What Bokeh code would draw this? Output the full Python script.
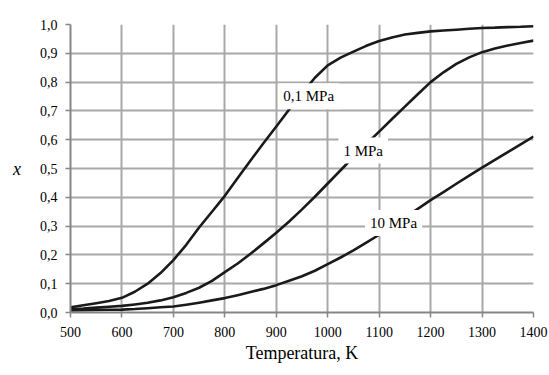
from bokeh.plotting import figure
from bokeh.models import FixedTicker, CustomJSTickFormatter, Range1d, Label
from bokeh.embed import file_html
from bokeh.resources import INLINE

# Data (temperature in K, conversion x)
temps = [500, 525, 550, 575, 600, 625, 650, 675, 700, 725, 750, 775, 800, 825, 850, 875,
         900, 925, 950, 975, 1000, 1025, 1050, 1075, 1100, 1125, 1150, 1175, 1200, 1225,
         1250, 1275, 1300, 1325, 1350, 1375, 1400]
x_01mpa = [0.018, 0.025, 0.032, 0.040, 0.051, 0.072, 0.100, 0.137, 0.182, 0.235, 0.295, 0.350,
           0.405, 0.467, 0.528, 0.588, 0.646, 0.705, 0.760, 0.815, 0.858, 0.885, 0.906, 0.926,
           0.943, 0.955, 0.965, 0.971, 0.976, 0.979, 0.982, 0.985, 0.988, 0.989, 0.991, 0.992, 0.994]
x_1mpa = [0.012, 0.014, 0.017, 0.020, 0.023, 0.028, 0.034, 0.042, 0.053, 0.068, 0.086, 0.110,
          0.140, 0.170, 0.204, 0.240, 0.277, 0.316, 0.358, 0.402, 0.448, 0.494, 0.540, 0.585,
          0.628, 0.672, 0.715, 0.758, 0.800, 0.834, 0.863, 0.886, 0.904, 0.917, 0.927, 0.936, 0.944]
x_10mpa = [0.007, 0.008, 0.009, 0.0095, 0.010, 0.012, 0.015, 0.018, 0.021, 0.027, 0.034, 0.042,
           0.050, 0.060, 0.071, 0.082, 0.095, 0.110, 0.126, 0.145, 0.168, 0.191, 0.216, 0.243,
           0.270, 0.300, 0.330, 0.360, 0.390, 0.418, 0.447, 0.475, 0.503, 0.530, 0.557, 0.584, 0.611]
series_labels = ["0,1 MPa", "1 MPa", "10 MPa"]
label_pos_t = [963, 1069, 1128]
label_pos_x = [0.751, 0.5625, 0.311]
x_ticks = [500, 600, 700, 800, 900, 1000, 1100, 1200, 1300, 1400]
y_ticks = [0.0, 0.1, 0.2, 0.3, 0.4, 0.5, 0.6, 0.7, 0.8, 0.9, 1.0]

FONT = "Liberation Serif"

p = figure(width=549, height=375, output_backend="svg", toolbar_location=None,
           x_range=Range1d(500, 1400), y_range=Range1d(0, 1.0),
           min_border_left=70, min_border_right=16, min_border_top=24, min_border_bottom=63)
p.outline_line_color = None
p.background_fill_color = "white"
p.border_fill_color = "white"

for ax in (p.xaxis[0], p.yaxis[0]):
    ax.axis_line_color = "#868686"
    ax.axis_line_width = 2
    ax.major_tick_line_color = "#868686"
    ax.major_tick_line_width = 1.5
    ax.major_tick_out = 5
    ax.major_tick_in = 0
    ax.minor_tick_line_color = None
    ax.major_label_text_font = FONT
    ax.major_label_text_font_size = "14px"
    ax.major_label_text_color = "black"
    ax.axis_label_text_color = "black"
    ax.axis_label_text_font = FONT

p.xaxis.ticker = FixedTicker(ticks=x_ticks)
p.yaxis.ticker = FixedTicker(ticks=y_ticks)
p.yaxis.formatter = CustomJSTickFormatter(code="return tick.toFixed(1).replace('.', ',');")
p.xaxis.axis_label = "Temperatura, K"
p.xaxis.axis_label_text_font_size = "18px"
p.xaxis.axis_label_text_font_style = "normal"
p.xaxis.axis_label_standoff = 3
p.xaxis.major_label_standoff = 9
p.yaxis.major_label_standoff = 8
p.yaxis.axis_label = "x"
p.yaxis.axis_label_text_font_size = "18px"
p.yaxis.axis_label_text_font_style = "italic"
p.yaxis.axis_label_orientation = "horizontal"
p.yaxis.axis_label_standoff = 16

p.xgrid.ticker = FixedTicker(ticks=x_ticks)
p.ygrid.ticker = FixedTicker(ticks=y_ticks)
for g in (p.xgrid[0], p.ygrid[0]):
    g.grid_line_color = "#a8a8a8"
    g.grid_line_width = 2

for ys in (x_01mpa, x_1mpa, x_10mpa):
    p.line(temps, ys, line_color="#1a1a1a", line_width=2.6, line_join="round")

for txt, lt, lx in zip(series_labels, label_pos_t, label_pos_x):
    p.add_layout(Label(x=lt, y=lx, text=txt, text_align="center", text_baseline="middle",
                       text_font=FONT, text_font_size="15px", text_color="black",
                       background_fill_color="white", padding=5))

open("out.html", "w").write(file_html(p, INLINE))
